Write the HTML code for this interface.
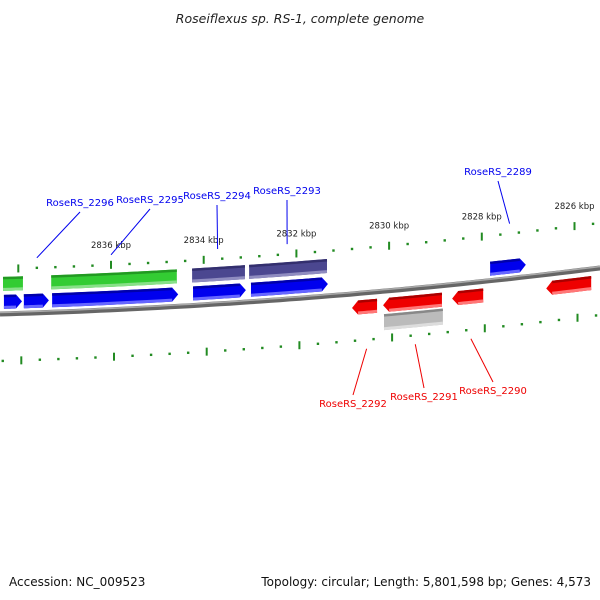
<!DOCTYPE html>
<html><head><meta charset="utf-8"><style>
body{margin:0;background:#fff;}
svg{display:block;font-family:"DejaVu Sans","Liberation Sans",sans-serif;}
</style></head><body>
<svg id="chart" width="600" height="600" viewBox="0 0 600 600">
<text x="300" y="23" text-anchor="middle" font-size="12.5" font-style="italic" fill="#222">Roseiflexus sp. RS-1, complete genome</text>
<g id="ticks"></g>
<g id="genes"></g>
<g id="labels"></g>
<text x="9" y="586" font-size="12" fill="#111">Accession: NC_009523</text>
<text x="591" y="586" text-anchor="end" font-size="12" fill="#111">Topology: circular; Length: 5,801,598 bp; Genes: 4,573</text>
</svg>
<script>
const geneNames=["f1","f2","f3","f4","f5","f6","g1","g2","p1","p2","r1","r2","r3","r4","gr1"];
const geneStart=[2838.31,2837.88,2837.27,2834.23,2832.98,2827.82,2838.33,2837.29,2834.25,2833.02,2830.80,2830.13,2828.64,2826.61,2830.11];
const geneEnd=[2837.92,2837.34,2834.55,2833.09,2831.32,2827.05,2837.90,2834.58,2833.11,2831.34,2830.26,2828.86,2827.97,2825.64,2828.84];
const geneRow=["fwd","fwd","fwd","fwd","fwd","fwd","green","green","purple","purple","rev","rev","rev","rev","gray"];
const labelText=["RoseRS_2296","RoseRS_2295","RoseRS_2294","RoseRS_2293","RoseRS_2289","RoseRS_2292","RoseRS_2291","RoseRS_2290"];
const labelGene=[2837.6,2836.0,2833.7,2832.2,2827.4,2830.55,2829.5,2828.3];
const labelStrand=["top","top","top","top","top","bot","bot","bot"];
const labelPos=[[80,206],[150,203],[217,199],[287,194],[498,175],[353,407],[424,400],[493,394]];
const majorKbp=[2838,2836,2834,2832,2830,2828,2826];
const majorLabels=["","2836 kbp","2834 kbp","2832 kbp","2830 kbp","2828 kbp","2826 kbp"];
const NS="http://www.w3.org/2000/svg";
function X(k){return 111+(2836-k)*46.35;}
function B(x){return 314-0.0287*x-8.0e-5*x*x;}
function mk(t,a,p){const e=document.createElementNS(NS,t);for(const k in a)e.setAttribute(k,a[k]);(p||document.getElementById('chart')).appendChild(e);return e;}
const svg=document.getElementById('chart');
// backbone
let d="";for(let x=0;x<=600;x+=10)d+=(x?"L":"M")+x+" "+B(x).toFixed(1);
let bb=mk('path',{d:d,stroke:'#666',"stroke-width":5,fill:'none'});

let bb2=mk('path',{d:d,stroke:'#aaa',"stroke-width":1.5,fill:'none',transform:'translate(0,-1.5)'});

// ticks
const tg=document.getElementById('ticks');
for(let i=0;i<=33;i++){const k=2838.4-i*0.4;const x=X(k);const major=Math.abs(k/2-Math.round(k/2))<0.01;
 [[x,-45],[x+3,47]].forEach(([xx,off],s)=>{if(xx<0||xx>600)return;const y=B(xx)+off;
  const t=mk('line',{x1:xx,x2:xx,y1:major?y-4:y-1.2,y2:major?y+4:y+1.2,stroke:'#228b22',"stroke-width":major?2:2.4},tg);
  });}
majorKbp.forEach((k,i)=>{if(!majorLabels[i])return;const x=X(k);
 const t=mk('text',{x:x,y:B(x)-62,"text-anchor":"middle","font-size":8.5,fill:'#222'},tg);t.textContent=majorLabels[i];
 });
// genes
const rows={fwd:{off:-12,h:14,c:'#0000ee',top:'#0000aa',bot:'#6666ff',dir:1},green:{off:-30,h:14,c:'#33cc33',top:'#229922',bot:'#88e088',dir:0},
purple:{off:-30,h:14,c:'#4b4790',top:'#332f6e',bot:'#8f8cc0',dir:0},rev:{off:14,h:14,c:'#ee0000',top:'#aa0000',bot:'#ff7777',dir:-1},
gray:{off:31,h:16,c:'#bbbbbb',top:'#888',bot:'#dddddd',dir:0}};
const gg=document.getElementById('genes');
geneNames.forEach((n,i)=>{const r=rows[geneRow[i]];const x1=X(geneStart[i]),x2=X(geneEnd[i]);
 const h=r.h/2,ah=r.dir?6:0;
 const top=[],bot=[];
 const xa=r.dir===-1?x1+ah:x1, xb=r.dir===1?x2-ah:x2;
 for(let s=0;s<=8;s++){const x=xa+(xb-xa)*s/8;top.push([x,B(x)+r.off-h]);bot.unshift([x,B(x)+r.off+h]);}
 let pts=[];
 if(r.dir===-1)pts.push([x1,B(x1)+r.off]);
 pts=pts.concat(top);
 if(r.dir===1)pts.push([x2,B(x2)+r.off]);
 pts=pts.concat(bot);
 const g=mk('g',{},gg);
 mk('polygon',{points:pts.map(p=>p.join(',')).join(' '),fill:r.c},g);
 let td="";top.forEach((p,j)=>td+=(j?"L":"M")+p[0]+" "+(p[1]+1.2));
 mk('path',{d:td,stroke:r.top,"stroke-width":2.5,fill:'none'},g);
 let bd="";bot.forEach((p,j)=>bd+=(j?"L":"M")+p[0]+" "+(p[1]-1.5));
 mk('path',{d:bd,stroke:r.bot,"stroke-width":3,fill:'none'},g);
});
// labels
const lg=document.getElementById('labels');
labelText.forEach((t,i)=>{const top=labelStrand[i]==="top";const col=top?'#0000ee':'#ee0000';
 let gx=X(labelGene[i]);if(!top)gx+=3;const gy=B(gx)+(top?-55:56);
 const [lx,ly]=labelPos[i];
 const l=mk('line',{x1:gx,y1:gy,x2:lx,y2:top?ly+6:ly-12,stroke:col,"stroke-width":1},lg);
 
 const tx=mk('text',{x:lx,y:ly,"text-anchor":"middle","font-size":10,fill:col},lg);tx.textContent=t;
 
});
</script>
</body></html>
